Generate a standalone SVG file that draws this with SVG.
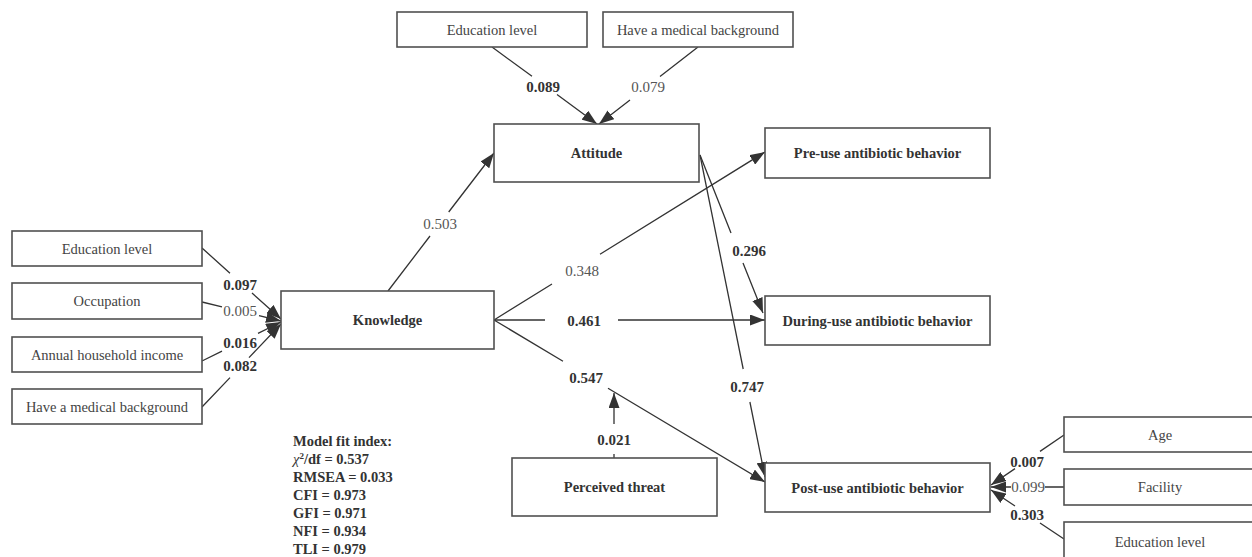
<svg xmlns="http://www.w3.org/2000/svg" width="1252" height="557" viewBox="0 0 1252 557">
<defs>
<marker id="ah" markerUnits="userSpaceOnUse" markerWidth="15" markerHeight="11" refX="15" refY="5.5" orient="auto" viewBox="0 0 15 11">
<path d="M0,0 L15,5.5 L0,11 z" fill="#333"/>
</marker>
<style>
.box{fill:#fff;stroke:#505050;stroke-width:1.6}
.nt{font-family:"Liberation Serif","Times New Roman",serif;font-size:14.5px;fill:#444;text-anchor:middle}
.nb{font-family:"Liberation Serif","Times New Roman",serif;font-size:14.5px;fill:#333;text-anchor:middle;font-weight:bold}
.c{fill:none;stroke:#333;stroke-width:1.3;marker-end:url(#ah)}
.lb{font-family:"Liberation Serif","Times New Roman",serif;font-size:15px;fill:#333;font-weight:bold;text-anchor:middle}
.ln{font-family:"Liberation Serif","Times New Roman",serif;font-size:15px;fill:#555;text-anchor:middle}
.fit{font-family:"Liberation Serif","Times New Roman",serif;font-size:14.5px;fill:#333;font-weight:bold}
</style>
</defs>
<rect width="1252" height="557" fill="#fff"/>

<g id="connectors">
<path class="c" d="M202,248 L230,273.2 M252,293 L281,319"/>
<path class="c" d="M202,302 L222,306.8 M259,315.7 L281,321"/>
<path class="c" d="M202,361 L222,351.1 M258,333.4 L281,322"/>
<path class="c" d="M202,407 L230,377.6 M249,357.6 L281,324"/>
<path class="c" d="M388,291 L430,236 M448.7,212 L494,153"/>
<path class="c" d="M492,47 L532,76.3 M557,94.6 L597,124"/>
<path class="c" d="M698,47 L660,76.6 M630,100 L599,124"/>
<path class="c" d="M494,320 L552,284 M600,254.3 L765,152"/>
<path class="c" d="M494,320 L545,320 M618,320 L765,320"/>
<path class="c" d="M494,320 L563,361.3 M608,388.2 L765,482"/>
<path class="c" d="M614,458 L614,454 M614,424 L614,393"/>
<path class="c" d="M700,155 L731,233 M743,263 L763,313"/>
<path class="c" d="M700,155 L743.2,369 M749.9,402 L765,477"/>
<path class="c" d="M1064,435 L1040,451.4 M1015,468.6 L991,485"/>
<path class="c" d="M1064,487 L1045,487 M1011,487 L991,487"/>
<path class="c" d="M1064,539 L1040,523 M1015,506 L991,490"/>
<text class="lb" x="240" y="290">0.097</text>
<text class="ln" x="240" y="316">0.005</text>
<text class="lb" x="240" y="348">0.016</text>
<text class="lb" x="240" y="371">0.082</text>
<text class="ln" x="440" y="229">0.503</text>
<text class="lb" x="543" y="92">0.089</text>
<text class="ln" x="648" y="92">0.079</text>
<text class="ln" x="582" y="276">0.348</text>
<text class="lb" x="584" y="326">0.461</text>
<text class="lb" x="586" y="383">0.547</text>
<text class="lb" x="614" y="445">0.021</text>
<text class="lb" x="749" y="256">0.296</text>
<text class="lb" x="747" y="392">0.747</text>
<text class="lb" x="1027" y="467">0.007</text>
<text class="ln" x="1028" y="492">0.099</text>
<text class="lb" x="1027" y="520">0.303</text>
</g>

<g id="n-edu-left"><rect class="box" x="12" y="231" width="190" height="35"/><text class="nt" x="107" y="253.5">Education level</text></g>
<g id="n-occupation"><rect class="box" x="12" y="283" width="190" height="36"/><text class="nt" x="107" y="306">Occupation</text></g>
<g id="n-income"><rect class="box" x="12" y="337" width="190" height="35"/><text class="nt" x="107" y="359.5">Annual household income</text></g>
<g id="n-medical-left"><rect class="box" x="12" y="389" width="190" height="35"/><text class="nt" x="107" y="411.5">Have a medical background</text></g>
<g id="n-knowledge"><rect class="box" x="281" y="291" width="213" height="58"/><text class="nb" x="387.5" y="325">Knowledge</text></g>
<g id="n-attitude"><rect class="box" x="494" y="124" width="205" height="58"/><text class="nb" x="596.5" y="158">Attitude</text></g>
<g id="n-edu-top"><rect class="box" x="397" y="12" width="190" height="35"/><text class="nt" x="492" y="34.5">Education level</text></g>
<g id="n-medical-top"><rect class="box" x="603" y="12" width="190" height="35"/><text class="nt" x="698" y="34.5">Have a medical background</text></g>
<g id="n-pre"><rect class="box" x="765" y="128" width="225" height="50"/><text class="nb" x="877.5" y="158">Pre-use antibiotic behavior</text></g>
<g id="n-during"><rect class="box" x="765" y="296" width="225" height="49"/><text class="nb" x="877.5" y="325.5">During-use antibiotic behavior</text></g>
<g id="n-post"><rect class="box" x="765" y="463" width="225" height="49"/><text class="nb" x="877.5" y="492.5">Post-use antibiotic behavior</text></g>
<g id="n-threat"><rect class="box" x="512" y="458" width="205" height="58"/><text class="nb" x="614.5" y="492">Perceived threat</text></g>
<g id="n-age"><rect class="box" x="1064" y="417" width="192" height="35"/><text class="nt" x="1160" y="439.5">Age</text></g>
<g id="n-facility"><rect class="box" x="1064" y="469" width="192" height="36"/><text class="nt" x="1160" y="492">Facility</text></g>
<g id="n-edu-right"><rect class="box" x="1064" y="522" width="192" height="40"/><text class="nt" x="1160" y="547">Education level</text></g>

<g id="fit-index">
<text class="fit" x="293" y="446">Model fit index:</text>
<text class="fit" x="293" y="464"><tspan font-style="italic" font-weight="normal">χ</tspan><tspan font-size="9" dy="-5">2</tspan><tspan dy="5">/df = 0.537</tspan></text>
<text class="fit" x="293" y="482">RMSEA = 0.033</text>
<text class="fit" x="293" y="500">CFI = 0.973</text>
<text class="fit" x="293" y="518">GFI = 0.971</text>
<text class="fit" x="293" y="535.5">NFI = 0.934</text>
<text class="fit" x="293" y="553.5">TLI = 0.979</text>
</g>
</svg>
